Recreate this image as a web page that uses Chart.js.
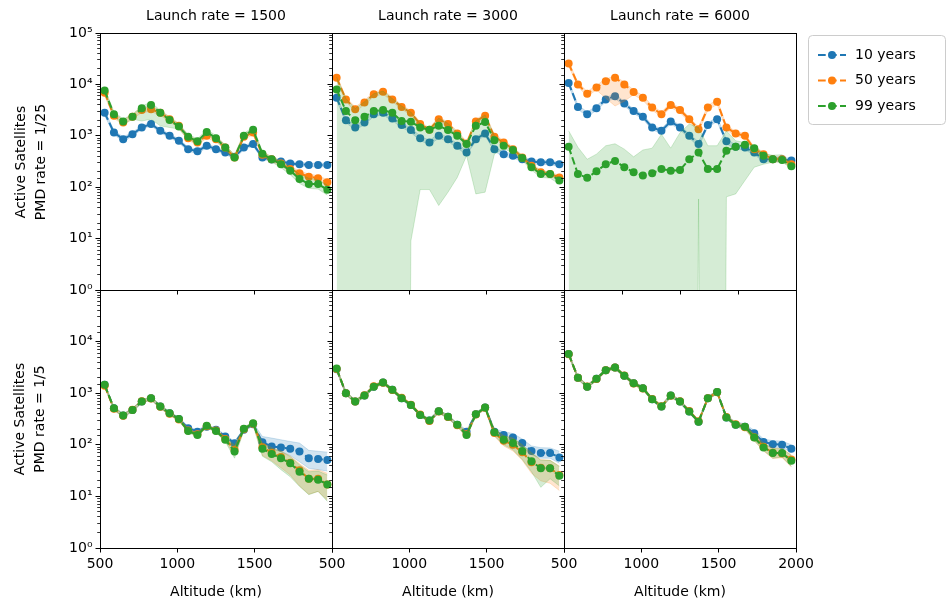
<!DOCTYPE html>
<html lang="en">
<head>
    <meta charset="UTF-8">
    <title>Active satellites by altitude</title>
    <script src="https://cdn.jsdelivr.net/npm/chart.js"></script>
    <style>
        body { margin: 0; background: #fff; }
        #wrap { position: relative; width: 950px; height: 604px; font-family: 'DejaVu Sans', sans-serif; font-size: 14px; color: #000; }
        #wrap canvas { position: absolute; left: 0; top: 0; }
        .lbl { position: absolute; text-align: center; line-height: 20px; white-space: nowrap; }
    </style>
</head>
<body>
    <div id="wrap"></div>
    <script>
        // altitude bins (km)
        const altitude = [530, 590, 650, 710, 770, 830, 890, 950, 1010, 1070, 1130, 1190, 1250, 1310, 1370, 1430, 1490, 1550, 1610, 1670, 1730, 1790, 1850, 1910, 1970];
        const seriesLabels = ['10 years', '50 years', '99 years'];
        const launchRates = [1500, 3000, 6000];
        const pmdRates = ['1/25', '1/5'];

        // PMD rate 1/25, launch rate 1500
        const p25_1500_y10 = [2800, 1160, 860, 1070, 1450, 1700, 1250, 1000, 800, 550, 500, 640, 550, 475, 390, 590, 690, 380, 345, 315, 290, 280, 270, 270, 270];
        const p25_1500_y10_lo = [2500, 1050, 780, 980, 1330, 1560, 1150, 920, 730, 500, 455, 585, 500, 435, 355, 540, 630, 350, 318, 292, 268, 258, 250, 250, 250];
        const p25_1500_y10_hi = [3100, 1280, 950, 1170, 1580, 1850, 1360, 1090, 870, 600, 545, 700, 600, 520, 425, 645, 755, 412, 375, 340, 314, 303, 292, 292, 292];
        const p25_1500_y50 = [6900, 2450, 1820, 2340, 3170, 3300, 2800, 2100, 1560, 900, 740, 1000, 860, 590, 380, 960, 1160, 430, 350, 290, 225, 186, 160, 150, 125];
        const p25_1500_y50_lo = [6100, 2200, 1620, 2100, 2850, 2950, 2500, 1880, 1400, 810, 665, 900, 770, 530, 345, 860, 1040, 390, 315, 260, 200, 165, 142, 133, 110];
        const p25_1500_y50_hi = [7700, 2750, 2040, 2620, 3550, 3700, 3140, 2350, 1750, 1010, 830, 1120, 965, 660, 425, 1075, 1300, 480, 392, 325, 252, 208, 180, 168, 140];
        const p25_1500_y99 = [7600, 2630, 1900, 2340, 3450, 3990, 2800, 2040, 1510, 960, 780, 1190, 900, 590, 380, 1000, 1310, 445, 350, 280, 210, 145, 116, 116, 89];
        const p25_1500_y99_lo = [6700, 2350, 1700, 2100, 1940, 2100, 1560, 1450, 1350, 860, 700, 1070, 810, 530, 345, 900, 1180, 400, 310, 240, 175, 118, 95, 92, 70];
        const p25_1500_y99_hi = [8500, 2950, 2120, 2600, 3850, 4450, 3130, 2280, 1690, 1070, 870, 1330, 1010, 660, 425, 1120, 1470, 495, 392, 320, 250, 178, 150, 140, 110];

        // PMD rate 1/25, launch rate 3000
        const p25_3000_y10 = [5500, 2000, 1450, 1820, 2630, 2820, 2180, 1620, 1290, 900, 740, 1000, 860, 640, 475, 860, 1110, 550, 440, 410, 350, 315, 305, 305, 280];
        const p25_3000_y10_lo = [4950, 1800, 1300, 1640, 2370, 2540, 1960, 1460, 1160, 810, 665, 900, 775, 575, 430, 775, 1000, 495, 395, 370, 315, 285, 275, 275, 252];
        const p25_3000_y10_hi = [6050, 2200, 1600, 2000, 2890, 3100, 2400, 1780, 1420, 990, 815, 1100, 945, 705, 520, 945, 1220, 605, 485, 450, 385, 345, 335, 335, 308];
        const p25_3000_y50 = [13500, 5100, 3300, 4450, 6400, 7200, 5100, 3650, 2800, 1690, 1310, 2100, 1690, 1110, 710, 1900, 2450, 960, 740, 550, 380, 260, 195, 180, 155];
        const p25_3000_y50_lo = [12100, 4600, 2970, 4000, 5750, 6500, 4600, 3300, 2520, 1520, 1180, 1890, 1520, 1000, 640, 1710, 2200, 865, 665, 495, 342, 234, 175, 162, 140];
        const p25_3000_y50_hi = [14900, 5600, 3630, 4900, 7050, 7900, 5600, 4000, 3080, 1860, 1440, 2310, 1860, 1220, 780, 2090, 2700, 1060, 815, 605, 418, 286, 215, 198, 170];
        const p25_3000_y99 = [8000, 3030, 2000, 2340, 3030, 3170, 2800, 1940, 1880, 1450, 1310, 1560, 1290, 1000, 690, 1560, 1860, 820, 640, 530, 370, 245, 180, 180, 135];
        const p25_3000_y99_lo = [0, 0, 0, 0, 0, 0, 0, 0, 9, 90, 90, 44, 80, 155, 410, 74, 80, 440, 560, 470, 330, 215, 155, 150, 115];
        const p25_3000_y99_hi = [14000, 5300, 3400, 4600, 6600, 7400, 5300, 3800, 2900, 1750, 1360, 2200, 1750, 1150, 740, 1980, 2550, 1000, 720, 590, 410, 275, 205, 200, 155];

        // PMD rate 1/25, launch rate 6000
        const p25_6000_y10 = [10700, 3650, 2630, 3450, 5100, 5900, 4230, 3030, 2360, 1450, 1250, 1900, 1450, 1000, 690, 1630, 2100, 780, 610, 590, 475, 350, 350, 350, 330];
        const p25_6000_y10_lo = [9600, 3300, 2370, 3100, 4600, 5300, 3800, 2730, 2120, 1300, 1120, 1710, 1300, 900, 620, 1470, 1890, 700, 550, 530, 428, 315, 315, 315, 297];
        const p25_6000_y10_hi = [11800, 4000, 2900, 3800, 5600, 6500, 4650, 3330, 2600, 1600, 1380, 2090, 1600, 1100, 760, 1790, 2310, 860, 670, 650, 522, 385, 385, 385, 363];
        const p25_6000_y50 = [25500, 10000, 6600, 8700, 11500, 13400, 10000, 7100, 5500, 3540, 2630, 3990, 3170, 2100, 1340, 3540, 4600, 1450, 1110, 1000, 550, 440, 350, 350, 280];
        const p25_6000_y50_lo = [22900, 9000, 5900, 7800, 5400, 3800, 4700, 6300, 4900, 3150, 2350, 3550, 2820, 1870, 1190, 3150, 4100, 1290, 990, 890, 490, 390, 312, 312, 250];
        const p25_6000_y50_hi = [28000, 11000, 7300, 9600, 12700, 14700, 11000, 7800, 6050, 3900, 2900, 4400, 3500, 2300, 1470, 3900, 5050, 1600, 1220, 1100, 605, 485, 385, 385, 308];
        const p25_6000_y99 = [610, 180, 152, 204, 280, 325, 245, 195, 168, 186, 225, 210, 215, 350, 475, 225, 225, 510, 610, 670, 575, 410, 350, 340, 255];
        const p25_6000_y99_lo = [0, 0, 0, 0, 0, 0, 0, 0, 0, 0, 0, 0, 0, 0, 59, 0, 0, 65, 74, 135, 245, 280, 305, 310, 230];
        const p25_6000_y99_hi = [1250, 600, 350, 440, 640, 700, 550, 390, 530, 575, 1070, 575, 1150, 1690, 1450, 640, 640, 1250, 800, 740, 640, 450, 420, 430, 295];

        // PMD rate 1/5, launch rate 1500
        const p5_1500_y10 = [1450, 510, 370, 475, 690, 800, 550, 410, 315, 210, 180, 225, 195, 145, 107, 195, 250, 112, 93, 89, 84, 74, 55, 53, 51];
        const p5_1500_y10_lo = [1350, 475, 345, 440, 640, 745, 510, 380, 292, 195, 167, 209, 181, 134, 99, 181, 232, 100, 82, 74, 62, 47, 35, 33, 31];
        const p5_1500_y10_hi = [1560, 550, 398, 510, 742, 860, 592, 440, 338, 226, 194, 242, 210, 156, 116, 210, 268, 145, 135, 125, 116, 108, 78, 75, 72];
        const p5_1500_y50 = [1400, 500, 365, 480, 700, 790, 545, 400, 310, 190, 160, 230, 190, 130, 80, 200, 255, 90, 70, 58, 45, 32, 22, 22, 17];
        const p5_1500_y50_lo = [1300, 465, 340, 445, 650, 735, 505, 370, 288, 175, 148, 214, 176, 120, 62, 186, 237, 62, 49, 36, 26, 16, 11, 12.5, 8.5];
        const p5_1500_y50_hi = [1500, 535, 390, 515, 750, 845, 585, 430, 332, 205, 172, 246, 204, 140, 98, 214, 273, 108, 88, 76, 61, 43, 32, 33, 28];
        const p5_1500_y99 = [1450, 510, 370, 475, 690, 800, 550, 410, 315, 186, 155, 235, 186, 125, 74, 204, 262, 84, 66, 55, 44, 30, 22, 21, 17];
        const p5_1500_y99_lo = [1350, 475, 345, 440, 640, 745, 510, 380, 292, 172, 143, 218, 172, 115, 55, 189, 243, 60, 47, 33, 24, 15.6, 10.8, 12.5, 8];
        const p5_1500_y99_hi = [1560, 550, 398, 510, 742, 860, 592, 440, 338, 200, 167, 252, 200, 135, 100, 219, 281, 107, 86, 74, 59, 41, 30, 31, 26];

        // PMD rate 1/5, launch rate 3000
        const p5_3000_y10 = [2900, 1000, 690, 900, 1340, 1620, 1160, 800, 590, 380, 295, 445, 350, 245, 180, 390, 530, 180, 155, 138, 108, 76, 69, 69, 57];
        const p5_3000_y10_lo = [2700, 930, 640, 835, 1245, 1505, 1080, 745, 550, 353, 274, 414, 325, 228, 167, 363, 493, 160, 135, 118, 92, 64, 55, 55, 44];
        const p5_3000_y10_hi = [3120, 1075, 742, 968, 1440, 1740, 1250, 860, 634, 408, 317, 478, 376, 263, 194, 419, 570, 205, 180, 165, 130, 95, 88, 87, 75];
        const p5_3000_y50 = [2950, 1000, 690, 910, 1360, 1600, 1150, 820, 600, 385, 290, 440, 345, 240, 160, 385, 520, 170, 120, 100, 72, 46, 36, 35, 26];
        const p5_3000_y50_lo = [2740, 930, 640, 845, 1265, 1490, 1070, 760, 558, 358, 270, 409, 321, 223, 140, 358, 484, 145, 95, 76, 50, 28, 20, 18, 13];
        const p5_3000_y50_hi = [3170, 1075, 742, 978, 1460, 1720, 1236, 882, 645, 414, 312, 473, 371, 258, 180, 414, 559, 200, 150, 135, 100, 70, 52, 50, 39];
        const p5_3000_y99 = [3000, 1000, 690, 900, 1340, 1620, 1160, 800, 590, 380, 295, 445, 350, 245, 155, 390, 530, 176, 125, 108, 76, 48, 35, 35, 25];
        const p5_3000_y99_lo = [2790, 930, 640, 835, 1245, 1505, 1080, 745, 550, 353, 274, 414, 325, 228, 138, 363, 493, 150, 100, 80, 52, 30, 15, 22, 16];
        const p5_3000_y99_hi = [3230, 1075, 742, 968, 1440, 1740, 1250, 860, 634, 408, 317, 478, 376, 263, 175, 419, 570, 200, 150, 135, 100, 70, 50, 50, 38];

        // PMD rate 1/5, launch rate 6000
        const p5_6000_y10 = [5750, 2000, 1340, 1900, 2800, 3150, 2180, 1560, 1250, 760, 550, 900, 690, 440, 280, 800, 1050, 340, 245, 225, 168, 113, 103, 100, 84];
        const p5_6000_y10_lo = [5350, 1860, 1245, 1765, 2600, 2930, 2030, 1450, 1160, 705, 511, 837, 641, 409, 260, 744, 976, 316, 220, 200, 150, 100, 90, 88, 72];
        const p5_6000_y10_hi = [6180, 2150, 1440, 2040, 3010, 3390, 2345, 1680, 1345, 817, 591, 968, 742, 473, 301, 860, 1130, 366, 280, 255, 190, 130, 120, 118, 100];
        const p5_6000_y50 = [5700, 2000, 1350, 1880, 2780, 3150, 2200, 1550, 1240, 770, 560, 890, 700, 450, 285, 800, 1040, 345, 250, 220, 140, 92, 70, 68, 52];
        const p5_6000_y50_lo = [5300, 1860, 1255, 1750, 2585, 2930, 2045, 1440, 1153, 716, 520, 828, 651, 418, 265, 744, 967, 320, 228, 198, 120, 76, 54, 56, 37];
        const p5_6000_y50_hi = [6130, 2150, 1450, 2020, 2990, 3390, 2365, 1665, 1333, 828, 602, 957, 752, 484, 306, 860, 1118, 370, 275, 245, 162, 108, 86, 85, 64];
        const p5_6000_y99 = [5750, 2000, 1340, 1900, 2800, 3150, 2180, 1560, 1250, 760, 550, 900, 690, 440, 280, 800, 1050, 340, 245, 225, 138, 89, 69, 69, 49];
        const p5_6000_y99_lo = [5350, 1860, 1245, 1765, 2600, 2930, 2030, 1450, 1160, 705, 511, 837, 641, 409, 260, 744, 976, 316, 226, 205, 120, 78, 55, 58, 38];
        const p5_6000_y99_hi = [6180, 2150, 1440, 2040, 3010, 3390, 2345, 1680, 1345, 817, 591, 968, 742, 473, 301, 860, 1130, 366, 266, 246, 160, 105, 85, 84, 62];

        // [row][col] -> [mean, lo, hi] per series
        const panelData = [
            [
                [[p25_1500_y10, p25_1500_y10_lo, p25_1500_y10_hi], [p25_1500_y50, p25_1500_y50_lo, p25_1500_y50_hi], [p25_1500_y99, p25_1500_y99_lo, p25_1500_y99_hi]],
                [[p25_3000_y10, p25_3000_y10_lo, p25_3000_y10_hi], [p25_3000_y50, p25_3000_y50_lo, p25_3000_y50_hi], [p25_3000_y99, p25_3000_y99_lo, p25_3000_y99_hi]],
                [[p25_6000_y10, p25_6000_y10_lo, p25_6000_y10_hi], [p25_6000_y50, p25_6000_y50_lo, p25_6000_y50_hi], [p25_6000_y99, p25_6000_y99_lo, p25_6000_y99_hi]]
            ],
            [
                [[p5_1500_y10, p5_1500_y10_lo, p5_1500_y10_hi], [p5_1500_y50, p5_1500_y50_lo, p5_1500_y50_hi], [p5_1500_y99, p5_1500_y99_lo, p5_1500_y99_hi]],
                [[p5_3000_y10, p5_3000_y10_lo, p5_3000_y10_hi], [p5_3000_y50, p5_3000_y50_lo, p5_3000_y50_hi], [p5_3000_y99, p5_3000_y99_lo, p5_3000_y99_hi]],
                [[p5_6000_y10, p5_6000_y10_lo, p5_6000_y10_hi], [p5_6000_y50, p5_6000_y50_lo, p5_6000_y50_hi], [p5_6000_y99, p5_6000_y99_lo, p5_6000_y99_hi]]
            ]
        ];

        const colors = ['31, 119, 180', '255, 127, 14', '44, 160, 44'];
        const colLeft = [100, 332, 564];
        const colRight = [332, 564, 796];
        const rowTop = [33, 290];
        const rowBottom = [290, 548];
        const FONT = { family: 'DejaVu Sans', size: 14 };
        const SUP = { '0': '\u2070', '1': '\u00b9', '2': '\u00b2', '3': '\u00b3', '4': '\u2074', '5': '\u2075' };

        Chart.defaults.font.family = 'DejaVu Sans';
        Chart.defaults.font.size = 14;
        Chart.defaults.color = '#000';

        const wrap = document.getElementById('wrap');

        function isDecade(v) {
            const l = Math.log10(v);
            return Math.abs(l - Math.round(l)) < 1e-9;
        }

        function points(values) {
            // zero is minus infinity on a log axis, push it far below the frame
            return altitude.map((a, i) => ({ x: a, y: values[i] === 0 ? 1e-30 : values[i] }));
        }

        // black box round each axes
        const frame = {
            id: 'frame',
            afterDraw(chart) {
                const a = chart.chartArea;
                const ctx = chart.ctx;
                ctx.save();
                ctx.strokeStyle = '#000';
                ctx.lineWidth = 1;
                ctx.strokeRect(Math.round(a.left) + 0.5, Math.round(a.top) + 0.5, Math.round(a.right - a.left), Math.round(a.bottom - a.top));
                ctx.restore();
            }
        };

        // matplotlib style legend outside the top right axes
        const sideLegend = {
            id: 'sideLegend',
            afterDraw(chart) {
                const ctx = chart.ctx;
                const x0 = 808, y0 = 35, w = 137, h = 89, r = 4;
                ctx.save();
                ctx.beginPath();
                ctx.roundRect(x0 + 0.5, y0 + 0.5, w, h, r);
                ctx.fillStyle = 'rgba(255,255,255,0.8)';
                ctx.fill();
                ctx.strokeStyle = '#cccccc';
                ctx.lineWidth = 1;
                ctx.stroke();
                const lines = chart.data.datasets.filter(d => d.label);
                lines.forEach((d, k) => {
                    const y = 55 + k * 25.5;
                    ctx.strokeStyle = d.borderColor;
                    ctx.lineWidth = 2;
                    ctx.setLineDash([7.7, 3.3]);
                    ctx.beginPath();
                    ctx.moveTo(818, y);
                    ctx.lineTo(846, y);
                    ctx.stroke();
                    ctx.setLineDash([]);
                    ctx.fillStyle = d.borderColor;
                    ctx.beginPath();
                    ctx.arc(832, y, 4, 0, Math.PI * 2);
                    ctx.fill();
                    ctx.fillStyle = '#000';
                    ctx.font = '14px "DejaVu Sans"';
                    ctx.textBaseline = 'middle';
                    ctx.fillText(d.label, 855, y);
                });
                ctx.restore();
            }
        };

        function makePanel(row, col) {
            const canvas = document.createElement('canvas');
            canvas.width = 950;
            canvas.height = 604;
            wrap.appendChild(canvas);

            const datasets = [];
            panelData[row][col].forEach(([mean, lo, hi], k) => {
                const band = `rgba(${colors[k]}, 0.2)`;
                const solid = `rgb(${colors[k]})`;
                const loIdx = datasets.length;
                datasets.push({
                    data: points(lo), borderColor: band, borderWidth: 1,
                    pointRadius: 0, fill: false, order: 6 - 2 * k
                });
                datasets.push({
                    data: points(hi), borderColor: band, borderWidth: 1, backgroundColor: band,
                    pointRadius: 0, fill: loIdx, order: 6 - 2 * k
                });
                datasets.push({
                    label: seriesLabels[k], data: points(mean),
                    borderColor: solid, borderWidth: 2, borderDash: [7.7, 3.3],
                    pointRadius: 4, pointBackgroundColor: solid, pointBorderWidth: 0,
                    fill: false, order: 5 - 2 * k
                });
            });

            // the y axis box fills everything left of the frame, the x axis box everything
            // below it on the bottom row (labels are clipped to the axis box)
            const yBoxWidth = colLeft[col];
            const xBoxHeight = row === 1 ? 604 - rowBottom[row] : 0;
            const oddTicks = row === 0 && col === 2;
            const scales = {
                x: {
                    type: 'linear', min: 500, max: 2000,
                    afterFit: s => { s.height = xBoxHeight; },
                    border: { display: false },
                    grid: { display: !oddTicks, drawOnChartArea: false, tickLength: 4.5, tickColor: '#000', tickWidth: 1 },
                    ticks: {
                        display: row === 1, stepSize: 500, autoSkip: false, maxRotation: 0, padding: 3,
                        color: '#000', font: FONT,
                        callback: v => (col < 2 && v === 2000) ? '' : String(v)
                    }
                },
                y: {
                    type: 'logarithmic', min: 1, max: 100000,
                    afterFit: s => { s.width = yBoxWidth; },
                    border: { display: false },
                    grid: {
                        drawOnChartArea: false, tickLength: 4.5, tickColor: '#000',
                        tickWidth: c => (c.tick && isDecade(c.tick.value)) ? 1 : 0.8,
                        tickBorderDash: c => (c.tick && isDecade(c.tick.value)) ? [] : [0, 1.7, 2.8, 20]
                    },
                    ticks: {
                        display: col === 0, autoSkip: false, padding: 3, color: '#000', font: FONT,
                        callback: v => {
                            if (!isDecade(v)) return '';
                            const e = Math.round(Math.log10(v));
                            if (row === 1 && e === 5) return '';
                            return '10' + SUP[String(e)];
                        }
                    }
                }
            };
            if (oddTicks) {
                // this axes carries its own tick set on a 0..2000 range
                scales.x2 = {
                    type: 'linear', axis: 'x', position: 'bottom', min: 0, max: 2000,
                    afterFit: s => { s.height = 0; },
                    border: { display: false },
                    grid: { drawOnChartArea: false, tickLength: 4.5, tickColor: '#000', tickWidth: 1 },
                    ticks: { display: false, stepSize: 500 }
                };
            }

            new Chart(canvas.getContext('2d'), {
                type: 'line',
                data: { datasets },
                options: {
                    responsive: false,
                    animation: false,
                    devicePixelRatio: 1,
                    events: [],
                    layout: {
                        padding: {
                            left: 0, right: 950 - colRight[col],
                            top: rowTop[row], bottom: 604 - rowBottom[row] - xBoxHeight
                        }
                    },
                    elements: { line: { tension: 0 } },
                    scales,
                    plugins: { legend: { display: false }, tooltip: { enabled: false } }
                },
                plugins: oddTicks ? [frame, sideLegend] : [frame]
            });
        }

        for (let row = 0; row < 2; row++) {
            for (let col = 0; col < 3; col++) {
                makePanel(row, col);
            }
        }

        function addLabel(text, css) {
            const d = document.createElement('div');
            d.className = 'lbl';
            d.innerHTML = text;
            Object.assign(d.style, css);
            wrap.appendChild(d);
        }

        launchRates.forEach((rate, col) => {
            const w = colRight[col] - colLeft[col];
            addLabel('Launch rate = ' + rate, { left: colLeft[col] + 'px', width: w + 'px', top: '5px' });
            addLabel('Altitude (km)', { left: colLeft[col] + 'px', width: w + 'px', top: '581px' });
        });

        pmdRates.forEach((rate, row) => {
            const h = rowBottom[row] - rowTop[row];
            const cy = (rowTop[row] + rowBottom[row]) / 2;
            addLabel('Active Satellites<br>PMD rate = ' + rate, {
                left: (29 - h / 2) + 'px', top: (cy - 20) + 'px', width: h + 'px', height: '40px',
                transform: 'rotate(-90deg)', transformOrigin: 'center center'
            });
        });
    </script>
</body>
</html>
